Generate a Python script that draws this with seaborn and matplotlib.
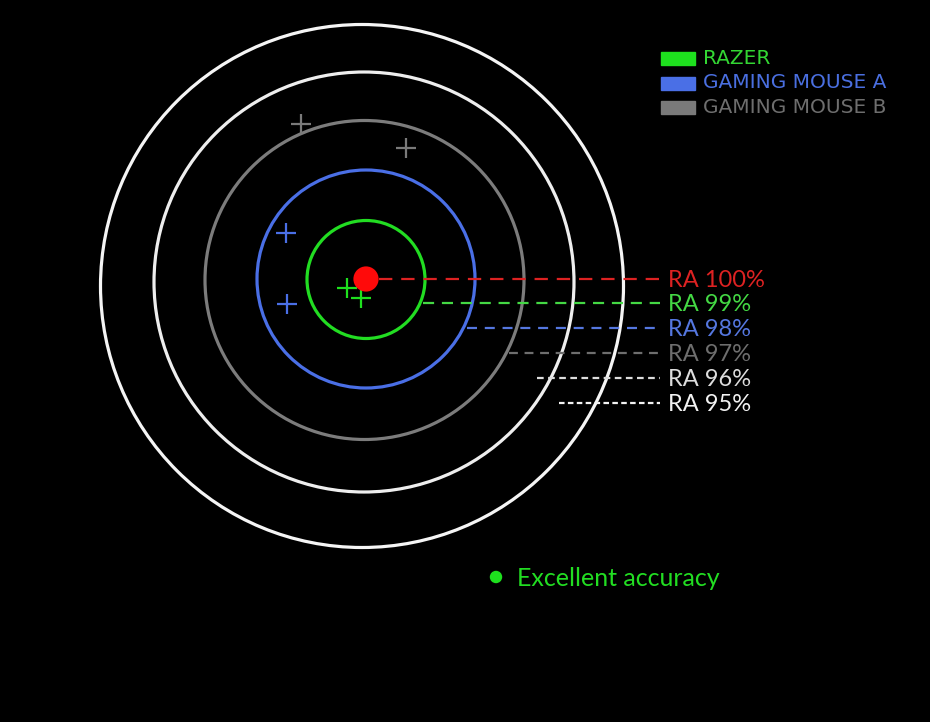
import pandas as pd
import matplotlib.pyplot as plt
import matplotlib.patches as mpatches
import seaborn as sns

# rings (pixel space of the original graphic)
ring_cx = [366, 366, 364.5, 364, 362]
ring_cy = [279.5, 279, 280, 282, 286]
ring_radii = [59, 109, 159.5, 210, 261.5]
ring_colors = ["#22dd22", "#4a6fe6", "#7c7c7c", "#eeeeee", "#f5f5f5"]
bullseye = (366, 279)

# shot markers per mouse
shot_x = [347, 361, 286, 287, 301, 406]
shot_y = [288, 298, 233, 304, 124, 148]
shot_brand = ["RAZER", "RAZER", "GAMING MOUSE A", "GAMING MOUSE A",
              "GAMING MOUSE B", "GAMING MOUSE B"]
brands = ["RAZER", "GAMING MOUSE A", "GAMING MOUSE B"]
brand_colors = ["#1ee01e", "#4a6fe6", "#7a7a7a"]
legend_text_colors = ["#33d633", "#4a6fe0", "#6e6e6e"]

# accuracy guide lines
ra_labels = ["RA 100%", "RA 99%", "RA 98%", "RA 97%", "RA 96%", "RA 95%"]
ra_start = [379, 423, 467, 509, 537, 559]
ra_y = [279, 303, 328, 353, 378, 403]
ra_colors = ["#dd2222", "#44d844", "#5577e0", "#6e6e6e", "#dddddd", "#f2f2f2"]
ra_dashes = [(6, 4), (5, 3.5), (4.5, 3.5), (4, 3), (3, 2), (2.5, 1.5)]
ra_end = 660

sns.set_style("dark", {"axes.facecolor": "black", "figure.facecolor": "black"})
plt.rcParams["font.family"] = ["Lato", "DejaVu Sans"]

fig = plt.figure(figsize=(9.3, 7.22), dpi=100)
ax = fig.add_axes([0, 0, 1, 1])
ax.set_xlim(0, 930)
ax.set_ylim(722, 0)
ax.set_aspect("equal")
ax.axis("off")

for cx, cy, r, c in zip(ring_cx, ring_cy, ring_radii, ring_colors):
    ax.add_patch(mpatches.Circle((cx, cy), r, fill=False, ec=c, lw=2.3))

for lab, x0, y, c, d in zip(ra_labels, ra_start, ra_y, ra_colors, ra_dashes):
    line = pd.DataFrame({"x": [x0, ra_end], "y": [y, y]})
    sns.lineplot(data=line, x="x", y="y", ax=ax, color=c, lw=1.6,
                 dashes=False).lines[-1].set_dashes(d)
    ax.text(668, y + 1.5, lab, color=c, fontsize=17, va="center", ha="left")

shots = pd.DataFrame({"x": shot_x, "y": shot_y, "brand": shot_brand})
sns.scatterplot(data=shots, x="x", y="y", hue="brand", hue_order=brands,
                palette=brand_colors, marker="+", s=220, linewidth=1.6,
                legend=False, ax=ax, zorder=4)

sns.scatterplot(x=[bullseye[0]], y=[bullseye[1]], color="#ff0a0a", s=330,
                edgecolor="none", ax=ax, zorder=5)

# legend boxes
for i, (b, c, tc) in enumerate(zip(brands, brand_colors, legend_text_colors)):
    y = 58.5 + i * 24.5
    ax.add_patch(mpatches.Rectangle((661, y - 6.5), 34, 13, color=c))
    ax.text(703, y, b, color=tc, fontsize=14.5, va="center", ha="left",
            family="DejaVu Sans")

sns.scatterplot(x=[496], y=[577], color="#1ee01e", s=80, edgecolor="none", ax=ax)
ax.text(517, 578, "Excellent accuracy", color="#22dd22", fontsize=18,
        va="center", ha="left")

fig.savefig("out.png", dpi=100, facecolor="black")
